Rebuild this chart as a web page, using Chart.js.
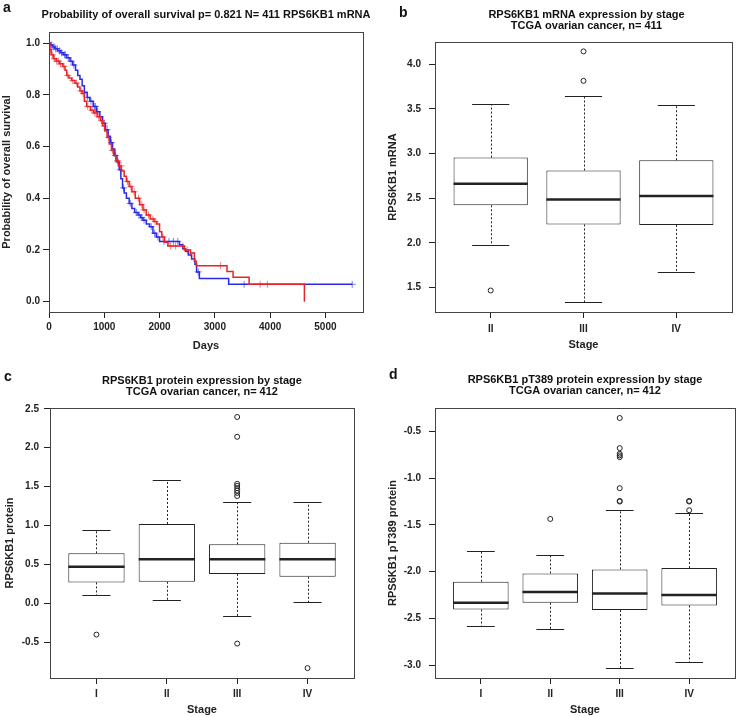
<!DOCTYPE html>
<html>
<head>
<meta charset="utf-8">
<script src="https://cdn.jsdelivr.net/npm/chart.js@4.4.0/dist/chart.umd.min.js"></script>
<style>
  html, body { margin: 0; padding: 0; background: #fff; }
  #fig { position: relative; width: 740px; height: 717px; overflow: hidden; }
  .panel { position: absolute; }
</style>
</head>
<body>
<div id="fig">
  <canvas class="panel" id="chart-a" width="370" height="355" style="left:0;top:0"></canvas>
  <canvas class="panel" id="chart-b" width="370" height="355" style="left:370px;top:0"></canvas>
  <canvas class="panel" id="chart-c" width="370" height="362" style="left:0;top:355px"></canvas>
  <canvas class="panel" id="chart-d" width="370" height="362" style="left:370px;top:355px"></canvas>
</div>
<script>
// --- panel a: Kaplan-Meier steps (days, survival) ---
const blueDays = [0, 30, 70, 110, 160, 210, 260, 320, 380, 430, 480, 520, 560, 600, 640, 690, 740, 800, 860, 920,
  970, 1020, 1070, 1110, 1150, 1190, 1230, 1270, 1300, 1330, 1360, 1400, 1450, 1500, 1550, 1610, 1660, 1700, 1760, 1820,
  1880, 1940, 2000, 2360, 2420, 2470, 2520, 2580, 2640, 2670, 2720, 3250, 5485];
const blueSurv = [1.0, 0.993, 0.985, 0.978, 0.97, 0.963, 0.955, 0.943, 0.93, 0.915, 0.895, 0.875, 0.86, 0.835, 0.81, 0.79, 0.775, 0.755, 0.735, 0.715,
  0.69, 0.665, 0.64, 0.615, 0.59, 0.565, 0.54, 0.51, 0.475, 0.44, 0.42, 0.40, 0.38, 0.36, 0.345, 0.335, 0.325, 0.315, 0.30, 0.29,
  0.265, 0.25, 0.233, 0.22, 0.205, 0.195, 0.18, 0.165, 0.145, 0.115, 0.09, 0.067, 0.067];
const blueCensor = [50, 90, 120, 150, 190, 230, 280, 300, 350, 400, 450, 700, 760, 820, 840, 880, 1000, 1050, 1130, 1200,
  1250, 1290, 1350, 1470, 1580, 1630, 1680, 1720, 1850, 1910, 1970, 2080, 2170, 2250, 2330, 2700, 3530, 5485];

const redDays = [0, 15, 40, 80, 130, 190, 250, 290, 320, 360, 410, 470, 520, 560, 600, 640, 680, 750, 810, 870,
  930, 970, 1010, 1050, 1090, 1130, 1170, 1210, 1260, 1310, 1360, 1400, 1450, 1500, 1560, 1640, 1700, 1760, 1830, 1900,
  1950, 2000, 2040, 2090, 2150, 2450, 2560, 2630, 2665, 3220, 3330, 3620, 4620];
const redSurv = [1.0, 0.975, 0.955, 0.94, 0.93, 0.92, 0.91, 0.895, 0.875, 0.865, 0.855, 0.845, 0.83, 0.815, 0.805, 0.775, 0.755, 0.74, 0.73, 0.715,
  0.70, 0.68, 0.66, 0.635, 0.61, 0.585, 0.565, 0.545, 0.525, 0.505, 0.485, 0.465, 0.445, 0.425, 0.40, 0.375, 0.355, 0.335, 0.32, 0.31,
  0.30, 0.27, 0.25, 0.23, 0.215, 0.20, 0.188, 0.156, 0.139, 0.117, 0.094, 0.067, 0];
const redCensor = [25, 60, 100, 140, 170, 210, 270, 340, 430, 500, 580, 620, 700, 780, 830, 900, 950, 1000, 1080, 1150,
  1240, 1300, 1420, 1480, 1540, 1620, 1680, 1720, 1800, 1880, 1920, 2060, 2200, 2290, 2420, 2500, 2560, 3100, 3820, 3950];

const dayTicks = [0, 1000, 2000, 3000, 4000, 5000];
const survTicks = [0, 0.2, 0.4, 0.6, 0.8, 1.0];

// --- panel b: mRNA by stage ---
const mrnaStages = ['II', 'III', 'IV'];
const mrnaLow = [1.97, 1.34, 1.67];
const mrnaQ1 = [2.42, 2.205, 2.20];
const mrnaMed = [2.66, 2.485, 2.525];
const mrnaQ3 = [2.955, 2.81, 2.925];
const mrnaHigh = [3.56, 3.65, 3.54];
const mrnaOut = [[1.465], [4.145, 3.815], []];
const mrnaTicks = [1.5, 2.0, 2.5, 3.0, 3.5, 4.0];

// --- panel c: protein by stage ---
const protStages = ['I', 'II', 'III', 'IV'];
const protLow = [0.115, 0.05, -0.16, 0.013];
const protQ1 = [0.27, 0.279, 0.38, 0.343];
const protMed = [0.472, 0.567, 0.567, 0.567];
const protQ3 = [0.644, 1.021, 0.76, 0.78];
const protHigh = [0.94, 1.588, 1.305, 1.305];
const protOut = [[-0.40], [], [2.395, 2.14, 1.536, 1.51, 1.48, 1.45, 1.42, 1.38, -0.515], [-0.83]];
const protTicks = [-0.5, 0.0, 0.5, 1.0, 1.5, 2.0, 2.5];

// --- panel d: pT389 by stage ---
const phosStages = ['I', 'II', 'III', 'IV'];
const phosLow = [-2.579, -2.611, -3.029, -2.964];
const phosQ1 = [-2.404, -2.332, -2.41, -2.36];
const phosMed = [-2.332, -2.218, -2.232, -2.25];
const phosQ3 = [-2.107, -2.018, -1.975, -1.961];
const phosHigh = [-1.775, -1.818, -1.343, -1.371];
const phosOut = [[], [-1.436], [-0.357, -0.679, -0.739, -0.757, -0.775, -1.107, -1.243, -1.25], [-1.243, -1.25, -1.343]];
const phosTicks = [-3.0, -2.5, -2.0, -1.5, -1.0, -0.5];

const FONT = "'Liberation Sans', Arial, sans-serif";
const INK = '#222';

// survival value of a step curve at time t (censor marks sit on the curve)
function survAt(days, surv, t) {
  let v = surv[0];
  for (let i = 0; i < days.length; i++) if (days[i] <= t) v = surv[i];
  return v;
}

// frame box, panel letter and title
const panelPlugin = {
  id: 'panel',
  afterDraw(chart, args, opts) {
    const { ctx, chartArea: a } = chart;
    ctx.save();
    ctx.strokeStyle = '#444';
    ctx.lineWidth = 1;
    ctx.strokeRect(Math.round(a.left) + 0.5, Math.round(a.top) + 0.5,
      Math.round(a.right - a.left), Math.round(a.bottom - a.top));
    ctx.fillStyle = '#111';
    ctx.textBaseline = 'middle';
    ctx.textAlign = 'left';
    ctx.font = `bold 14px ${FONT}`;
    ctx.fillText(opts.letter, opts.letterX, opts.letterY);
    ctx.font = `bold 11px ${FONT}`;
    ctx.textAlign = 'center';
    const cx = (a.left + a.right) / 2 + (opts.titleDx || 0);
    opts.title.forEach((t, i) => ctx.fillText(t, cx, opts.titleY + i * 11));
    ctx.restore();
  }
};

// whiskers, caps and medians drawn on the library scales
const boxLines = {
  id: 'boxLines',
  afterDatasetsDraw(chart, args, opts) {
    if (!opts.low) return;
    const { ctx, scales: { x, y } } = chart;
    ctx.save();
    ctx.strokeStyle = INK;
    opts.low.forEach((lo, i) => {
      const pos = i + 1;
      const cx = Math.round(x.getPixelForValue(pos)) + 0.5;
      const capL = x.getPixelForValue(pos - 0.2), capR = x.getPixelForValue(pos + 0.2);
      const boxL = x.getPixelForValue(pos - 0.4), boxR = x.getPixelForValue(pos + 0.4);
      const yh = Math.round(y.getPixelForValue(opts.high[i])) + 0.5;
      const yl = Math.round(y.getPixelForValue(lo)) + 0.5;
      ctx.lineWidth = 1;
      ctx.setLineDash([2, 2]);
      ctx.beginPath();
      ctx.moveTo(cx, y.getPixelForValue(opts.q3[i])); ctx.lineTo(cx, yh);
      ctx.moveTo(cx, y.getPixelForValue(opts.q1[i])); ctx.lineTo(cx, yl);
      ctx.stroke();
      ctx.setLineDash([]);
      ctx.beginPath();
      ctx.moveTo(capL, yh); ctx.lineTo(capR, yh);
      ctx.moveTo(capL, yl); ctx.lineTo(capR, yl);
      ctx.stroke();
      ctx.lineWidth = 2.5;
      ctx.beginPath();
      const ym = y.getPixelForValue(opts.med[i]);
      ctx.moveTo(boxL, ym); ctx.lineTo(boxR, ym);
      ctx.stroke();
    });
    ctx.restore();
  }
};

Chart.register(panelPlugin);

function axis(ticks, fmt, extra) {
  return Object.assign({
    type: 'linear',
    offset: false,
    afterBuildTicks: s => { s.ticks = ticks.map(v => ({ value: v })); },
    grid: { drawOnChartArea: false, offset: false, color: INK, tickLength: 6, tickColor: INK },
    border: { display: false },
    ticks: { color: INK, font: { family: FONT, size: 10, weight: 'bold' }, callback: fmt, maxRotation: 0, autoSkip: false }
  }, extra);
}

function axisTitle(text, pad) {
  return { display: true, text, color: INK, font: { family: FONT, size: 11, weight: 'bold' }, padding: pad };
}

function renderSurvival() {
  const lineStyle = { stepped: true, pointRadius: 0, borderWidth: 1.5, fill: false, type: 'line' };
  const censorStyle = { type: 'scatter', pointStyle: 'cross', pointRadius: 3.5, borderWidth: 1 };
  new Chart(document.getElementById('chart-a'), {
    type: 'scatter',
    data: {
      datasets: [
        Object.assign({ data: redDays.map((d, i) => ({ x: d, y: redSurv[i] })), borderColor: '#e8242b', order: 1 }, lineStyle),
        Object.assign({ data: redCensor.map(d => ({ x: d, y: survAt(redDays, redSurv, d) })), borderColor: 'rgba(232,36,43,0.6)', order: 2 }, censorStyle),
        Object.assign({ data: blueDays.map((d, i) => ({ x: d, y: blueSurv[i] })), borderColor: '#2a2ae6', order: 3 }, lineStyle),
        Object.assign({ data: blueCensor.map(d => ({ x: d, y: survAt(blueDays, blueSurv, d) })), borderColor: 'rgba(42,42,230,0.6)', order: 4 }, censorStyle)
      ]
    },
    options: {
      responsive: false, animation: false, devicePixelRatio: 1,
      layout: { padding: { top: 32, right: 7, left: 0, bottom: 0 } },
      plugins: {
        legend: { display: false }, tooltip: { enabled: false },
        panel: { letter: 'a', letterX: 3, letterY: 8, title: ['Probability of overall survival p= 0.821 N= 411 RPS6KB1 mRNA'], titleY: 15 }
      },
      scales: {
        x: axis(dayTicks, v => String(v), {
          min: 0, max: 5680,
          afterFit: s => { s.height = 43; },
          title: axisTitle('Days', { top: 0, bottom: 2 })
        }),
        y: axis(survTicks, v => v.toFixed(1), {
          min: -0.04, max: 1.043,
          afterFit: s => { s.width = 49; },
          title: axisTitle('Probability of overall survival', { top: 0, bottom: 0 })
        })
      }
    }
  });
}

function renderBoxPlot(canvasId, stages, low, q1, med, q3, high, outliers, yTicks, yRange, xRange, layout) {
  const boxes = stages.map((s, i) => ({ x: i + 1, y: [q1[i], q3[i]] }));
  const outPts = [];
  outliers.forEach((list, i) => list.forEach(v => outPts.push({ x: i + 1, y: v })));
  new Chart(document.getElementById(canvasId), {
    type: 'bar',
    data: {
      datasets: [
        { type: 'bar', data: boxes, backgroundColor: '#fff', borderColor: INK, borderWidth: 1,
          borderSkipped: false, categoryPercentage: 1, barPercentage: 0.8 },
        { type: 'scatter', data: outPts, pointStyle: 'circle', pointRadius: 2.5, borderWidth: 1,
          borderColor: INK, backgroundColor: 'rgba(0,0,0,0)' }
      ]
    },
    plugins: [boxLines],
    options: {
      responsive: false, animation: false, devicePixelRatio: 1,
      layout: { padding: { top: layout.top, right: layout.right, left: 0, bottom: 0 } },
      plugins: {
        legend: { display: false }, tooltip: { enabled: false },
        boxLines: { low, q1, med, q3, high },
        panel: layout.panel
      },
      scales: {
        x: axis(stages.map((s, i) => i + 1), v => stages[v - 1], {
          min: xRange[0], max: xRange[1],
          afterFit: s => { s.height = layout.bottom; },
          ticks: { color: INK, font: { family: FONT, size: 10, weight: 'bold' }, padding: layout.xPad,
            callback: v => stages[v - 1], maxRotation: 0, autoSkip: false },
          title: axisTitle('Stage', { top: 0, bottom: layout.xTitlePad })
        }),
        y: axis(yTicks, v => v.toFixed(1), {
          min: yRange[0], max: yRange[1],
          afterFit: s => { s.width = layout.left; },
          ticks: { color: INK, font: { family: FONT, size: 10, weight: 'bold' }, padding: layout.yPad,
            callback: v => v.toFixed(1), autoSkip: false },
          title: axisTitle(layout.yTitle, { top: layout.yTitlePad, bottom: 0 })
        })
      }
    }
  });
}

renderSurvival();

renderBoxPlot('chart-b', mrnaStages, mrnaLow, mrnaQ1, mrnaMed, mrnaQ3, mrnaHigh, mrnaOut,
  mrnaTicks, [1.224, 4.25], [0.4, 3.6], {
    top: 42, right: 8, left: 65, bottom: 43, xPad: 5, yPad: 8, xTitlePad: 3, yTitlePad: 16,
    yTitle: 'RPS6KB1 mRNA',
    panel: { letter: 'b', letterX: 29, letterY: 13, title: ['RPS6KB1 mRNA expression by stage', 'TCGA ovarian cancer, n= 411'], titleY: 15, titleDx: 3 }
  });

renderBoxPlot('chart-c', protStages, protLow, protQ1, protMed, protQ3, protHigh, protOut,
  protTicks, [-0.957, 2.51], [0.34, 4.66], {
    top: 53, right: 16, left: 50, bottom: 39, xPad: 4, yPad: 5, xTitlePad: 0, yTitlePad: 3,
    yTitle: 'RPS6KB1 protein',
    panel: { letter: 'c', letterX: 4, letterY: 22, title: ['RPS6KB1 protein expression by stage', 'TCGA ovarian cancer, n= 412'], titleY: 26 }
  });

renderBoxPlot('chart-d', phosStages, phosLow, phosQ1, phosMed, phosQ3, phosHigh, phosOut,
  phosTicks, [-3.136, -0.25], [0.34, 4.66], {
    top: 53, right: 2, left: 65, bottom: 39, xPad: 4, yPad: 8, xTitlePad: 0, yTitlePad: 16,
    yTitle: 'RPS6KB1 pT389 protein',
    panel: { letter: 'd', letterX: 19, letterY: 20, title: ['RPS6KB1 pT389 protein expression by stage', 'TCGA ovarian cancer, n= 412'], titleY: 25 }
  });
</script>
</body>
</html>
